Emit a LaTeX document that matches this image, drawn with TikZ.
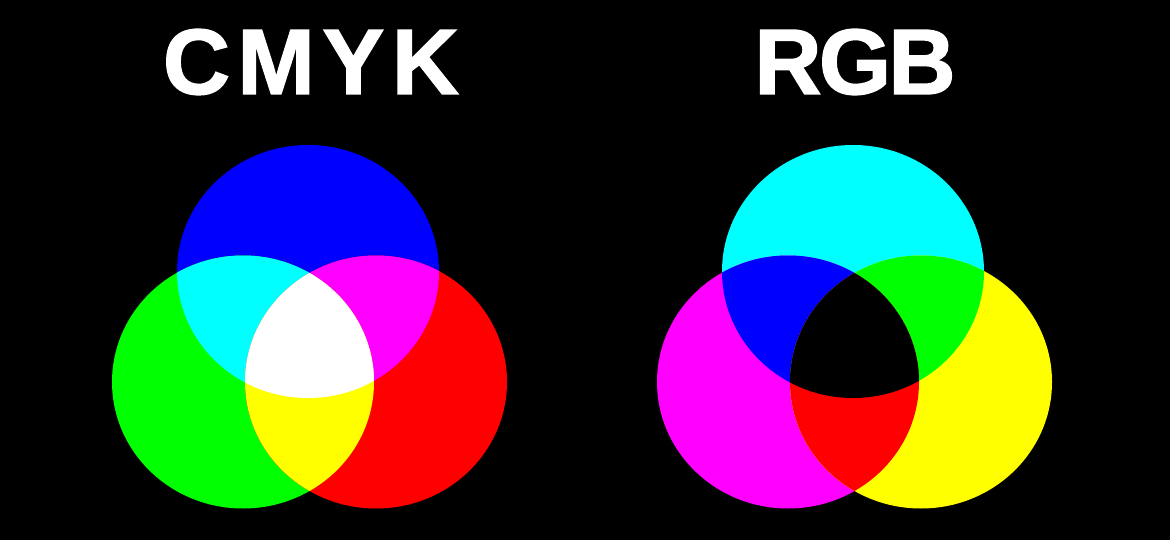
\documentclass[tikz,border=0pt]{standalone}
\usepackage{fontspec}
\setmainfont{Liberation Sans}
\newfontfamily\titlefont{Liberation Sans Bold}[FakeBold=1.5]
\definecolor{rgbcyan}{RGB}{0,255,255}
\definecolor{rgbmagenta}{RGB}{255,0,255}
\definecolor{rgbyellow}{RGB}{255,255,0}
\definecolor{rgbred}{RGB}{255,0,0}
\definecolor{rgbgreen}{RGB}{0,255,0}
\definecolor{rgbblue}{RGB}{0,0,255}
\begin{document}
\begin{tikzpicture}[x=1pt,y=-1pt,
  title/.style={text=white,font=\titlefont\fontsize{93}{93}\selectfont,inner sep=0pt,anchor=base},
  ell/.style={x radius=131,y radius=126.5},
  LT/.style={insert path={(lt) ellipse [ell]}},
  LL/.style={insert path={(ll) ellipse [ell]}},
  LR/.style={insert path={(lr) ellipse [ell]}},
  RT/.style={insert path={(rt) ellipse [ell]}},
  RL/.style={insert path={(rl) ellipse [ell]}},
  RR/.style={insert path={(rr) ellipse [ell]}}]
\fill[black] (0,0) rectangle (1170,540);
\useasboundingbox (0,0) rectangle (1170,540);
\coordinate (lt) at (308,271.5);
\coordinate (ll) at (243,382);
\coordinate (lr) at (376,382);
\coordinate (rt) at (853,271.5);
\coordinate (rl) at (788,382);
\coordinate (rr) at (921,382);
% titles
\node[title] (cmyk) at (311,94) {\addfontfeature{LetterSpace=8}CMYK};
\node[title] (rgb) at (855,94) {\addfontfeature{LetterSpace=-3}RGB};
% left group (additive)
\fill[rgbblue,LT];
\fill[rgbgreen,LL];
\fill[rgbred,LR];
\begin{scope}\clip[LT]; \fill[rgbcyan,LL]; \end{scope}
\begin{scope}\clip[LT]; \fill[rgbmagenta,LR]; \end{scope}
\begin{scope}\clip[LL]; \fill[rgbyellow,LR]; \end{scope}
\begin{scope}\clip[LT]; \clip[LL]; \fill[white,LR]; \end{scope}
% right group (subtractive)
\fill[rgbcyan,RT];
\fill[rgbmagenta,RL];
\fill[rgbyellow,RR];
\begin{scope}\clip[RT]; \fill[rgbblue,RL]; \end{scope}
\begin{scope}\clip[RT]; \fill[rgbgreen,RR]; \end{scope}
\begin{scope}\clip[RL]; \fill[rgbred,RR]; \end{scope}
\begin{scope}\clip[RT]; \clip[RL]; \fill[black,RR]; \end{scope}
\end{tikzpicture}
\end{document}
